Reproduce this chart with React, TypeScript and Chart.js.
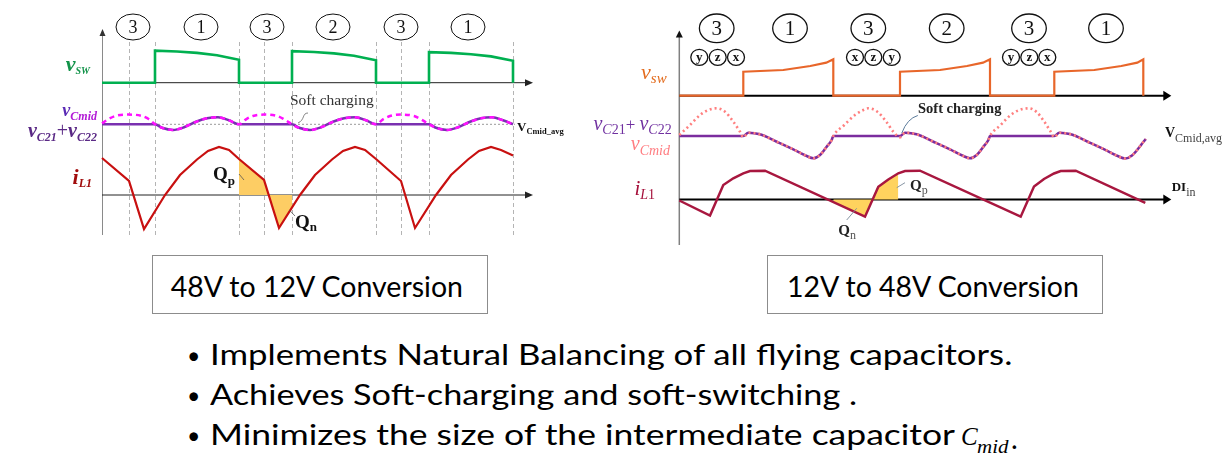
import React, { useEffect, useLayoutEffect, useRef, useState } from 'react';
import { Chart, registerables } from 'chart.js';

Chart.register(...registerables);

const SERIF = '"Liberation Serif", "Times New Roman", serif';
const SANS = 'Lato, "Open Sans", "Noto Sans", sans-serif';

// ================= LEFT PANEL : 48V to 12V (t = time, arbitrary units) =================
const L_PHASE_LABELS = ['3', '1', '3', '2', '3', '1'];
const L_PHASE_T = [31, 99, 165, 231, 299, 366];
const L_DASH_T = [27, 53, 137, 162, 190, 274, 299, 327, 411];

// v_sw (switch node voltage)
const L_VSW_T = [0, 53, 53, 75, 95, 115, 137, 137, 190, 190, 212, 232, 252, 274, 274, 327, 327, 349, 369, 389, 411, 411];
const L_VSW_V = [0, 0, 32, 31.2, 29.8, 27.5, 23, 0, 0, 31.5, 30.7, 29.3, 27, 22.5, 0, 0, 30.5, 29.8, 28.5, 26.3, 22, 0];

// v_C21 + v_C22 (solid purple), deviation from V_Cmid_avg
const L_VC2_T = [0, 53, 60, 71, 82, 94, 105, 116, 127, 137, 190, 197, 208, 219, 231, 242, 253, 264, 274, 327, 334, 345, 356, 368, 379, 390, 401, 411];
const L_VC2_V = [0, 0, -3.5, -5.7, -3, 2.5, 6, 7, 4, 0, 0, -3.5, -5.7, -3, 2.5, 6, 7, 4, 0, 0, -3.5, -5.7, -3, 2.5, 6, 7, 4, 0];

// v_Cmid (dashed magenta)
const L_VCM_T = [0, 7, 14, 27, 40, 47, 53, 60, 71, 82, 94, 105, 116, 127, 137, 144, 151, 162, 175, 182, 190, 197, 208, 219, 231, 242, 253, 264, 274, 281, 288, 299, 312, 319, 327, 334, 345, 356, 368, 379, 390, 401, 411];
const L_VCM_V = [1, 5.5, 8.5, 9.7, 8.3, 5, 0, -3.5, -5.7, -3, 2.5, 6, 7, 4, 0, 5, 8.3, 9.7, 8.3, 5, 0, -3.5, -5.7, -3, 2.5, 6, 7, 4, 0, 5, 8.3, 9.7, 8.3, 5, 0, -3.5, -5.7, -3, 2.5, 6, 7, 4, 0];

// i_L1
const L_IL_T = [0, 27, 42, 63, 78, 95, 106, 117, 127, 137, 162, 177, 198, 213, 230, 241, 253, 263, 274, 299, 313, 334, 349, 366, 377, 389, 399, 411];
const L_IL_V = [37, 14, -34, 0, 20, 35.5, 44, 48, 45, 36, 15, -33, 0, 20, 35.5, 44, 48, 45, 36, 14, -33, 0, 20, 35.5, 44, 48, 45, 39.5];

// charge areas
const L_QP_T = [137, 162, 166.7];
const L_QP_V = [36, 15, 0];
const L_QN_T = [166.7, 177, 190.3];
const L_QN_V = [0, -33, -12];

// ================= RIGHT PANEL : 12V to 48V =================
const R_PHASE_LABELS = ['3', '1', '3', '2', '3', '1'];
const R_PHASE_T = [37.4, 110.7, 189, 267.4, 349.7, 426.7];
const R_SUB_LABELS = ['y', 'z', 'x', 'x', 'z', 'y', 'y', 'z', 'x'];
const R_SUB_T = [20, 38.4, 56.7, 175.7, 194, 212.4, 331.7, 350, 368];

const R_VSW_T = [0, 64, 64, 104, 131, 147, 154, 154, 220.7, 220.7, 260.7, 287.7, 303.7, 310.7, 310.7, 375, 375, 415, 442, 458, 464, 464];
const R_VSW_V = [0, 0, 24, 25.7, 29.7, 33, 36.4, 0, 0, 24, 25.7, 29.7, 33, 36.4, 0, 0, 24, 25.7, 29.7, 33, 36.4, 0];

const R_VC2_T = [0, 64, 69, 80.7, 97.4, 114, 127.4, 134, 140.7, 147.4, 152.4, 154, 220.7, 225.7, 237.4, 254.1, 270.7, 284.1, 290.7, 297.4, 304.1, 309.1, 310.7, 375, 380, 391.7, 408.4, 425, 438.4, 446, 452.7, 459.4, 464, 466.5];
const R_VC2_V = [0, 0, 3.3, 1.7, -5.7, -13.3, -20, -22.3, -19, -10.7, -4, 0, 0, 3.3, 1.7, -5.7, -13.3, -20, -22.3, -19, -10.7, -4, 0, 0, 3.3, 1.7, -5.7, -13.3, -20, -22.5, -19.5, -12, -6, -3];

const R_VCM_T = [0, 10.7, 20.7, 29, 37.4, 45.7, 54, 60.7, 64, 69, 80.7, 97.4, 114, 127.4, 134, 140.7, 147.4, 152.4, 154, 165, 175.6, 184, 189, 198, 207, 214, 220.7, 225.7, 237.4, 254.1, 270.7, 284.1, 290.7, 297.4, 304.1, 309.1, 310.7, 321.4, 331.4, 340, 349.7, 357, 365, 371.4, 375, 380, 391.7, 408.4, 425, 438.4, 446, 452.7, 459.4, 464, 466.5];
const R_VCM_V = [1, 11, 21, 26, 27.7, 24.3, 14.3, 4.3, -1.3, 3.3, 1.7, -5.7, -13.3, -20, -22.3, -19, -10.7, -4, 0, 11, 21, 26, 27.7, 24.3, 14.3, 4.3, -1.3, 3.3, 1.7, -5.7, -13.3, -20, -22.3, -19, -10.7, -4, 0, 11, 21, 26, 27.7, 24.3, 14.3, 4.3, -1.3, 3.3, 1.7, -5.7, -13.3, -20, -22.5, -19.5, -12, -6, -3];

const R_IL_T = [0, 30.7, 44, 54, 64, 70.7, 85.7, 185.7, 199, 209, 219, 225.7, 240.7, 341.4, 354.7, 364.7, 374.7, 381.4, 396.4, 466];
const R_IL_V = [-1, -16, 14.5, 21.2, 26.2, 28.5, 28.8, -17.2, 12.8, 20, 26.2, 28.5, 28.8, -17.2, 13, 20.5, 26, 28.5, 28.8, -3.3];

const R_QN_T = [154, 185.7, 193.3];
const R_QN_V = [-2.6, -17.2, 0];
const R_QP_T = [193.3, 199, 209, 219];
const R_QP_V = [0, 12.8, 20, 26.2];

// ================= bottom texts =================
const BOX_TITLES = ['48V to 12V Conversion', '12V to 48V Conversion'];
const BULLETS = [
  'Implements Natural Balancing of all flying capacitors.',
  'Achieves Soft-charging and soft-switching .',
  'Minimizes the size of the intermediate capacitor',
];

// ---------------- helpers ----------------
function pts(t: number[], v: number[], off: number) {
  return t.map((x, i) => ({ x, y: v[i] + off }));
}

function lineDs(t: number[], v: number[], off: number, color: string, width: number, order: number, extra: any = {}) {
  return {
    data: pts(t, v, off),
    borderColor: color,
    backgroundColor: 'rgba(0,0,0,0)',
    borderWidth: width,
    pointRadius: 0,
    tension: 0,
    fill: false,
    order,
    ...extra,
  };
}

function fillDs(t: number[], v: number[], color: string, order: number) {
  return {
    data: pts(t, v, 0),
    borderColor: 'rgba(0,0,0,0)',
    borderWidth: 0,
    backgroundColor: color,
    pointRadius: 0,
    tension: 0,
    fill: 'origin',
    order,
  };
}

function baseOptions(xmin: number, xmax: number, ymin: number, ymax: number) {
  return {
    responsive: false,
    maintainAspectRatio: false,
    animation: false,
    events: [],
    layout: { padding: 0 },
    plugins: { legend: { display: false }, tooltip: { enabled: false }, title: { display: false } },
    scales: {
      x: { type: 'linear', min: xmin, max: xmax, display: false },
      y: { type: 'linear', min: ymin, max: ymax, display: false },
    },
  };
}

type Part = { s: string; font: string; color: string; dy?: number };

function drawParts(ctx: CanvasRenderingContext2D, x: number, y: number, parts: Part[], align: 'left' | 'right' | 'center') {
  ctx.textAlign = 'left';
  ctx.textBaseline = 'alphabetic';
  const widths = parts.map((p) => {
    ctx.font = p.font;
    return ctx.measureText(p.s).width;
  });
  const total = widths.reduce((a, b) => a + b, 0);
  let cx = align === 'right' ? x - total : align === 'center' ? x - total / 2 : x;
  parts.forEach((p, i) => {
    ctx.font = p.font;
    ctx.fillStyle = p.color;
    ctx.fillText(p.s, cx, y + (p.dy || 0));
    cx += widths[i];
  });
}

function seg(ctx: CanvasRenderingContext2D, x1: number, y1: number, x2: number, y2: number) {
  ctx.beginPath();
  ctx.moveTo(x1, y1);
  ctx.lineTo(x2, y2);
  ctx.stroke();
}

function arrowHead(ctx: CanvasRenderingContext2D, x: number, y: number, dir: 'up' | 'right', len: number, half: number, color: string) {
  ctx.fillStyle = color;
  ctx.beginPath();
  if (dir === 'right') {
    ctx.moveTo(x, y);
    ctx.lineTo(x - len, y - half);
    ctx.lineTo(x - len, y + half);
  } else {
    ctx.moveTo(x, y);
    ctx.lineTo(x - half, y + len);
    ctx.lineTo(x + half, y + len);
  }
  ctx.closePath();
  ctx.fill();
}

function scalers(chart: any) {
  const xs = chart.scales.x;
  const ys = chart.scales.y;
  return { X: (t: number) => xs.getPixelForValue(t), Y: (v: number) => ys.getPixelForValue(v) };
}

// ---------------- LEFT chart ----------------
const L_OFF_VSW = 112.3;
const L_OFF_VC = 70.7;

const leftOverlay = {
  id: 'leftOverlay',
  beforeDatasetsDraw(chart: any) {
    const ctx: CanvasRenderingContext2D = chart.ctx;
    const { X, Y } = scalers(chart);
    ctx.save();
    ctx.lineWidth = 1;
    ctx.strokeStyle = '#b4b4b4';
    ctx.setLineDash([4, 3]);
    L_DASH_T.forEach((t) => {
      const x = Math.round(X(t)) + 0.5;
      seg(ctx, x, Y(153), x, Y(-40));
    });
    ctx.strokeStyle = '#9a9a9a';
    ctx.setLineDash([2, 2]);
    seg(ctx, X(0), Y(L_OFF_VC), X(413), Y(L_OFF_VC));
    ctx.setLineDash([]);
    ctx.strokeStyle = '#8a8a8a';
    seg(ctx, Math.round(X(0)) + 0.5, Y(-40), Math.round(X(0)) + 0.5, Y(160));
    arrowHead(ctx, Math.round(X(0)) + 0.5, Y(166), 'up', 7, 3, '#333');
    ctx.strokeStyle = '#222';
    seg(ctx, X(0), Y(L_OFF_VSW), X(425), Y(L_OFF_VSW));
    arrowHead(ctx, X(431), Y(L_OFF_VSW), 'right', 8, 3.5, '#222');
    seg(ctx, X(0), Y(0), X(425), Y(0));
    arrowHead(ctx, X(431), Y(0), 'right', 8, 3.5, '#222');
    ctx.restore();
  },
  afterDatasetsDraw(chart: any) {
    const ctx: CanvasRenderingContext2D = chart.ctx;
    const { X, Y } = scalers(chart);
    ctx.save();
    // phase circles
    ctx.strokeStyle = '#111';
    ctx.lineWidth = 1;
    L_PHASE_T.forEach((t, i) => {
      ctx.beginPath();
      ctx.ellipse(X(t), Y(168), 17, 13, 0, 0, Math.PI * 2);
      ctx.stroke();
      drawParts(ctx, X(t), Y(168) + 6, [{ s: L_PHASE_LABELS[i], font: `18px ${SERIF}`, color: '#111' }], 'center');
    });
    const bi = (px: number) => `italic bold ${px}px ${SERIF}`;
    drawParts(ctx, X(-12), Y(124), [
      { s: 'v', font: bi(22), color: '#13934A' },
      { s: 'SW', font: bi(10), color: '#13934A', dy: 3 },
    ], 'right');
    drawParts(ctx, X(-5), Y(79), [
      { s: 'v', font: bi(18), color: '#5A2AB5' },
      { s: 'Cmid', font: bi(12), color: '#B21AD6', dy: 4 },
    ], 'right');
    const pc = '#5B2A86';
    drawParts(ctx, X(-5), Y(58), [
      { s: 'v', font: bi(20), color: pc },
      { s: 'C21', font: bi(12), color: pc, dy: 4 },
      { s: '+', font: `20px ${SERIF}`, color: pc },
      { s: 'v', font: bi(20), color: pc },
      { s: 'C22', font: bi(12), color: pc, dy: 4 },
    ], 'right');
    drawParts(ctx, X(-10), Y(11), [
      { s: 'i', font: bi(22), color: '#A10C0C' },
      { s: 'L1', font: bi(12), color: '#A10C0C', dy: 3 },
    ], 'right');
    // soft charging
    drawParts(ctx, X(188), Y(90), [{ s: 'Soft charging', font: `15.5px ${SERIF}`, color: '#333' }], 'left');
    ctx.strokeStyle = '#666';
    ctx.lineWidth = 0.8;
    ctx.beginPath();
    ctx.moveTo(X(206), Y(82));
    ctx.bezierCurveTo(X(200), Y(82), X(203), Y(75), X(196), Y(72));
    ctx.stroke();
    // V_Cmid_avg
    drawParts(ctx, X(415), Y(64), [
      { s: 'V', font: `bold 13px ${SERIF}`, color: '#111' },
      { s: 'Cmid_avg', font: `bold 8.5px ${SERIF}`, color: '#111', dy: 3 },
    ], 'left');
    // Qp / Qn
    drawParts(ctx, X(111), Y(15), [
      { s: 'Q', font: `bold 19px ${SERIF}`, color: '#111' },
      { s: 'p', font: `bold 13px ${SERIF}`, color: '#111', dy: 4.5 },
    ], 'left');
    drawParts(ctx, X(193), Y(-33), [
      { s: 'Q', font: `bold 19px ${SERIF}`, color: '#111' },
      { s: 'n', font: `bold 13px ${SERIF}`, color: '#111', dy: 3 },
    ], 'left');
    ctx.strokeStyle = '#555';
    ctx.lineWidth = 0.8;
    seg(ctx, X(137), Y(21), X(142), Y(15));
    seg(ctx, X(187.3), Y(-15), X(193), Y(-21));
    ctx.restore();
  },
};

function buildLeft() {
  return {
    type: 'line',
    data: {
      datasets: [
        lineDs(L_IL_T, L_IL_V, 0, '#C81010', 2.2, 1),
        lineDs(L_VCM_T, L_VCM_V, L_OFF_VC, '#FF10FF', 2.5, 2, { borderDash: [5, 4], cubicInterpolationMode: 'monotone' }),
        lineDs(L_VC2_T, L_VC2_V, L_OFF_VC, '#7A30B0', 2.6, 3, { cubicInterpolationMode: 'monotone' }),
        lineDs(L_VSW_T, L_VSW_V, L_OFF_VSW, '#00B050', 2.6, 4),
        fillDs(L_QP_T, L_QP_V, '#FDCD64', 10),
        fillDs(L_QN_T, L_QN_V, '#FDCD64', 11),
      ],
    },
    options: baseOptions(-102, 463, -50, 195),
    plugins: [leftOverlay],
  };
}

// ---------------- RIGHT chart ----------------
const R_OFF_VSW = 103.8;
const R_OFF_VC = 63.5;

const rightOverlay = {
  id: 'rightOverlay',
  beforeDatasetsDraw(chart: any) {
    const ctx: CanvasRenderingContext2D = chart.ctx;
    const { X, Y } = scalers(chart);
    ctx.save();
    ctx.strokeStyle = '#808080';
    ctx.lineWidth = 1.5;
    seg(ctx, X(0), Y(-46), X(0), Y(163));
    arrowHead(ctx, X(0), Y(169), 'up', 7, 3.5, '#111');
    ctx.strokeStyle = '#000';
    ctx.lineWidth = 2;
    seg(ctx, X(0), Y(R_OFF_VSW), X(486), Y(R_OFF_VSW));
    arrowHead(ctx, X(492), Y(R_OFF_VSW), 'right', 8, 5, '#000');
    seg(ctx, X(0), Y(0), X(486), Y(0));
    arrowHead(ctx, X(492), Y(0), 'right', 8, 5, '#000');
    ctx.restore();
  },
  afterDatasetsDraw(chart: any) {
    const ctx: CanvasRenderingContext2D = chart.ctx;
    const { X, Y } = scalers(chart);
    ctx.save();
    ctx.strokeStyle = '#111';
    ctx.lineWidth = 1.3;
    R_PHASE_T.forEach((t, i) => {
      ctx.beginPath();
      ctx.ellipse(X(t), Y(171.2), 17.3, 14.3, 0, 0, Math.PI * 2);
      ctx.stroke();
      drawParts(ctx, X(t), Y(171.2) + 7, [{ s: R_PHASE_LABELS[i], font: `21px ${SERIF}`, color: '#111' }], 'center');
    });
    R_SUB_T.forEach((t, i) => {
      ctx.beginPath();
      ctx.ellipse(X(t), Y(142.2), 8.5, 8, 0, 0, Math.PI * 2);
      ctx.stroke();
      drawParts(ctx, X(t), Y(142.2) + 3.5, [{ s: R_SUB_LABELS[i], font: `bold 13px ${SERIF}`, color: '#111' }], 'center');
    });
    const it = (px: number) => `italic ${px}px ${SERIF}`;
    const up = (px: number) => `${px}px ${SERIF}`;
    const oc = '#E36C1E';
    drawParts(ctx, X(-12.6), Y(120.2), [
      { s: 'v', font: it(22), color: oc },
      { s: 'sw', font: it(15), color: oc, dy: 3.5 },
    ], 'right');
    const pc = '#7030A0';
    drawParts(ctx, X(-7.6), Y(69.5), [
      { s: 'v', font: it(20), color: pc },
      { s: 'C', font: it(14), color: pc, dy: 4 },
      { s: '21', font: up(14), color: pc, dy: 4 },
      { s: '+ ', font: up(17), color: pc },
      { s: 'v', font: it(20), color: pc },
      { s: 'C', font: it(14), color: pc, dy: 4 },
      { s: '22', font: up(14), color: pc, dy: 4 },
    ], 'right');
    const sc = '#FF7C80';
    drawParts(ctx, X(-9.3), Y(49.5), [
      { s: 'v', font: it(20), color: sc },
      { s: 'Cmid', font: it(14), color: sc, dy: 5 },
    ], 'right');
    const rc = '#A50F3A';
    drawParts(ctx, X(-24.3), Y(4.5), [
      { s: 'i', font: it(21), color: rc },
      { s: 'L', font: it(14), color: rc, dy: 4 },
      { s: '1', font: up(14), color: rc, dy: 4 },
    ], 'right');
    drawParts(ctx, X(485.7), Y(62.8), [
      { s: 'V', font: `bold 14px ${SERIF}`, color: '#111' },
      { s: 'Cmid,avg', font: `12px ${SERIF}`, color: '#444', dy: 5 },
    ], 'left');
    drawParts(ctx, X(492.4), Y(8.8), [
      { s: 'DI', font: `bold 13px ${SERIF}`, color: '#111' },
      { s: 'in', font: `12px ${SERIF}`, color: '#444', dy: 5 },
    ], 'left');
    drawParts(ctx, X(238.7), Y(86.5), [{ s: 'Soft charging', font: `bold 14.5px ${SERIF}`, color: '#222' }], 'left');
    ctx.strokeStyle = '#5a7a9a';
    ctx.lineWidth = 1;
    ctx.beginPath();
    ctx.moveTo(X(238.5), Y(84));
    ctx.quadraticCurveTo(X(228), Y(81), X(222.5), Y(66.5));
    ctx.stroke();
    drawParts(ctx, X(230.7), Y(9.5), [
      { s: 'Q', font: `bold 15px ${SERIF}`, color: '#222' },
      { s: 'p', font: `12px ${SERIF}`, color: '#555', dy: 4 },
    ], 'left');
    drawParts(ctx, X(159), Y(-35.5), [
      { s: 'Q', font: `bold 15px ${SERIF}`, color: '#222' },
      { s: 'n', font: `12px ${SERIF}`, color: '#555', dy: 4 },
    ], 'left');
    ctx.strokeStyle = '#7a8a9a';
    ctx.lineWidth = 0.9;
    seg(ctx, X(225.7), Y(16.8), X(217.4), Y(11.8));
    seg(ctx, X(167.4), Y(-20.5), X(177.4), Y(-8.8));
    ctx.restore();
  },
};

function buildRight() {
  return {
    type: 'line',
    data: {
      datasets: [
        lineDs(R_IL_T, R_IL_V, 0, '#A8173F', 2.5, 1),
        lineDs(R_VCM_T, R_VCM_V, R_OFF_VC, '#FF7F7F', 2.6, 2, { borderDash: [2, 3], cubicInterpolationMode: 'monotone' }),
        lineDs(R_VC2_T, R_VC2_V, R_OFF_VC, '#7B2C9E', 2.6, 3, { cubicInterpolationMode: 'monotone' }),
        lineDs(R_VSW_T, R_VSW_V, R_OFF_VSW, '#E8662A', 2.2, 4),
        fillDs(R_QN_T, R_QN_V, '#FFD35E', 10),
        fillDs(R_QP_T, R_QP_V, '#FFD35E', 11),
      ],
    },
    options: baseOptions(-114.3, 544.7, -45.5, 199.5),
    plugins: [rightOverlay],
  };
}

// ---------------- components ----------------
function Diagram({ left, top, width, height, build }: { left: number; top: number; width: number; height: number; build: () => any }) {
  const ref = useRef<HTMLCanvasElement>(null);
  useEffect(() => {
    if (!ref.current) return;
    const chart = new Chart(ref.current, build() as any);
    return () => chart.destroy();
  }, [build]);
  return (
    <div style={{ position: 'absolute', left, top, width, height }}>
      <canvas ref={ref} width={width} height={height} style={{ width, height, display: 'block' }} />
    </div>
  );
}

function FitText({ x, baseline, width, size, font = SANS, italic = false, color = '#000', children }: any) {
  const boxRef = useRef<HTMLDivElement>(null);
  const probeRef = useRef<HTMLSpanElement>(null);
  const [m, setM] = useState({ sx: 1, asc: size * 0.95 });
  useLayoutEffect(() => {
    const box = boxRef.current;
    const probe = probeRef.current;
    if (!box || !probe) return;
    const natural = box.offsetWidth;
    const asc = probe.offsetTop;
    setM({ sx: width && natural ? width / natural : 1, asc });
  }, [width, size]);
  return (
    <div
      ref={boxRef}
      style={{
        position: 'absolute',
        left: x,
        top: baseline - m.asc,
        whiteSpace: 'nowrap',
        fontFamily: font,
        fontSize: size,
        fontStyle: italic ? 'italic' : 'normal',
        lineHeight: 'normal',
        color,
        transform: `scaleX(${m.sx})`,
        transformOrigin: '0 0',
      }}
    >
      {children}
      <span ref={probeRef} style={{ display: 'inline-block', width: 0, height: 0, verticalAlign: 'baseline' }} />
    </div>
  );
}

export default function App() {
  const boxStyle = (left: number): React.CSSProperties => ({
    position: 'absolute',
    left,
    top: 255,
    width: 336.5,
    height: 58.5,
    border: '1.5px solid #8c8c8c',
    boxSizing: 'border-box',
  });
  return (
    <div style={{ position: 'absolute', left: 0, top: 0, width: 1224, height: 470, background: '#fff', overflow: 'hidden' }}>
      <Diagram left={0} top={0} width={565} height={245} build={buildLeft} />
      <Diagram left={565} top={0} width={659} height={245} build={buildRight} />

      <div style={boxStyle(151.5)} />
      <div style={boxStyle(766.7)} />
      <FitText x={170.7} baseline={296.7} width={292} size={28.5}>{BOX_TITLES[0]}</FitText>
      <FitText x={786.7} baseline={296.7} width={291.6} size={28.5}>{BOX_TITLES[1]}</FitText>

      {[365, 405, 445].map((b, i) => (
        <FitText key={'b' + i} x={187} baseline={b - 1} size={23}>•</FitText>
      ))}
      <FitText x={210} baseline={365} width={802} size={28.5}>{BULLETS[0]}</FitText>
      <FitText x={210} baseline={405} width={647} size={28.5}>{BULLETS[1]}</FitText>
      <FitText x={210} baseline={445} width={745} size={28.5}>{BULLETS[2]}</FitText>
      <FitText x={961} baseline={445} size={25} font={SERIF} italic>C</FitText>
      <FitText x={976.5} baseline={453} width={32} size={19} font={SERIF} italic>mid</FitText>
      <FitText x={1011} baseline={449} size={28.5}>.</FitText>
    </div>
  );
}
